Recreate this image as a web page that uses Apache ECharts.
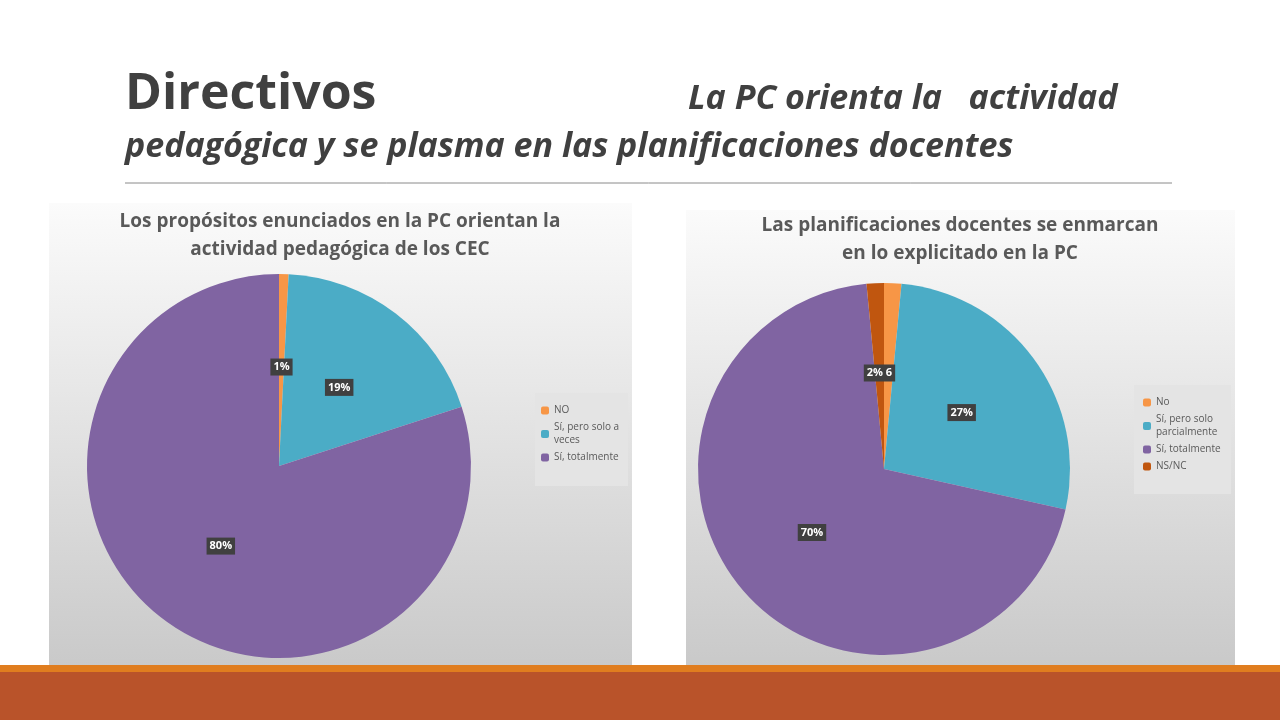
<!DOCTYPE html>
<html><head><meta charset="utf-8">
<script src="https://cdn.jsdelivr.net/npm/echarts@6/dist/echarts.min.js"></script>
<style>body{margin:0;background:#fff}#main{width:1280px;height:720px}</style>
</head><body><div id="main"></div>
<script>
const leftNames = ['NO', 'Sí, pero solo a\nveces', 'Sí, totalmente'];
const leftValues = [0.8, 19.2, 80];
const leftLabels = ['1%', '19%', '80%'];
const rightNames = ['No', 'Sí, pero solo\nparcialmente', 'Sí, totalmente', 'NS/NC'];
const rightValues = [1.5, 27, 70, 1.5];
const rightLabels = ['', '27%', '70%', '2% 6'];
const colors = ['#f79646', '#4bacc6', '#8064a2', '#c0560f'];

const chart = echarts.init(document.getElementById('main'));
const grad = {type: 'linear', x: 0, y: 0, x2: 0, y2: 1,
  colorStops: [{offset: 0, color: '#fbfbfb'}, {offset: 1, color: '#c9c9c9'}]};
const lbl = {show: true, position: 'inside', color: '#fff', fontWeight: 'bold', fontSize: 11,
  backgroundColor: '#404040', padding: [3, 3], fontFamily: 'Open Sans'};

function pie(names, values, labels, center, r) {
  return {type: 'pie', center: center, radius: r, startAngle: 90, clockwise: true,
    label: Object.assign({}, lbl, {formatter: p => labels[p.dataIndex]}),
    labelLine: {show: false}, emphasis: {disabled: true},
    itemStyle: {borderWidth: 0},
    data: names.map((n, i) => ({name: n, value: values[i], itemStyle: {color: colors[i]},
      label: labels[i] ? {} : {show: false}}))};
}
chart.setOption({
  animation: false,
  graphic: [
    {type: 'rect', shape: {x: 49, y: 203, width: 583, height: 467}, style: {fill: grad}},
    {type: 'rect', shape: {x: 686, y: 210, width: 549, height: 458}, style: {fill: grad}},
    {type: 'rect', shape: {x: 535, y: 393, width: 93, height: 93}, style: {fill: '#e4e4e4'}},
    {type: 'rect', shape: {x: 1134, y: 385, width: 97, height: 109}, style: {fill: '#e4e4e4'}},
    {type: 'rect', shape: {x: 0, y: 665, width: 1280, height: 7}, style: {fill: '#e07d1f'}},
    {type: 'rect', shape: {x: 0, y: 672, width: 1280, height: 48}, style: {fill: '#b9532a'}},
    {type: 'line', shape: {x1: 125, y1: 183, x2: 1172, y2: 183}, style: {stroke: '#8a8a8a', lineWidth: 1}},
    {type: 'text', left: 125, top: 70, style: {text: 'Directivos', font: 'bold 50px "Open Sans"', fill: '#404040'}},
    {type: 'text', left: 688, top: 82, style: {text: 'La PC orienta la   actividad', font: 'italic bold 34px "Open Sans"', fill: '#404040'}},
    {type: 'text', left: 125, top: 130, style: {text: 'pedagógica y se plasma en las planificaciones docentes', font: 'italic bold 34px "Open Sans"', fill: '#404040'}},
    {type: 'text', x: 340, y: 208, style: {text: 'Los propósitos enunciados en la PC orientan la\nactividad pedagógica de los CEC', font: 'bold 19px "Open Sans"', fill: '#595959', align: 'center', lineHeight: 28}},
    {type: 'text', x: 960, y: 212, style: {text: 'Las planificaciones docentes se enmarcan\nen lo explicitado en la PC', font: 'bold 19px "Open Sans"', fill: '#595959', align: 'center', lineHeight: 28}}
  ],
  legend: [
    {orient: 'vertical', left: 536, top: 399, itemWidth: 8, itemHeight: 8, itemGap: 4,
      textStyle: {fontSize: 10, color: '#595959', fontFamily: 'Open Sans', lineHeight: 13},
      data: leftNames, seriesIndex: 0},
    {orient: 'vertical', left: 1138, top: 391, itemWidth: 8, itemHeight: 8, itemGap: 4,
      textStyle: {fontSize: 10, color: '#595959', fontFamily: 'Open Sans', lineHeight: 13},
      data: rightNames}
  ],
  series: [
    pie(leftNames, leftValues, leftLabels, [279, 466], 192),
    pie(rightNames, rightValues, rightLabels, [884, 469], 186)
  ]
});
</script></body></html>
